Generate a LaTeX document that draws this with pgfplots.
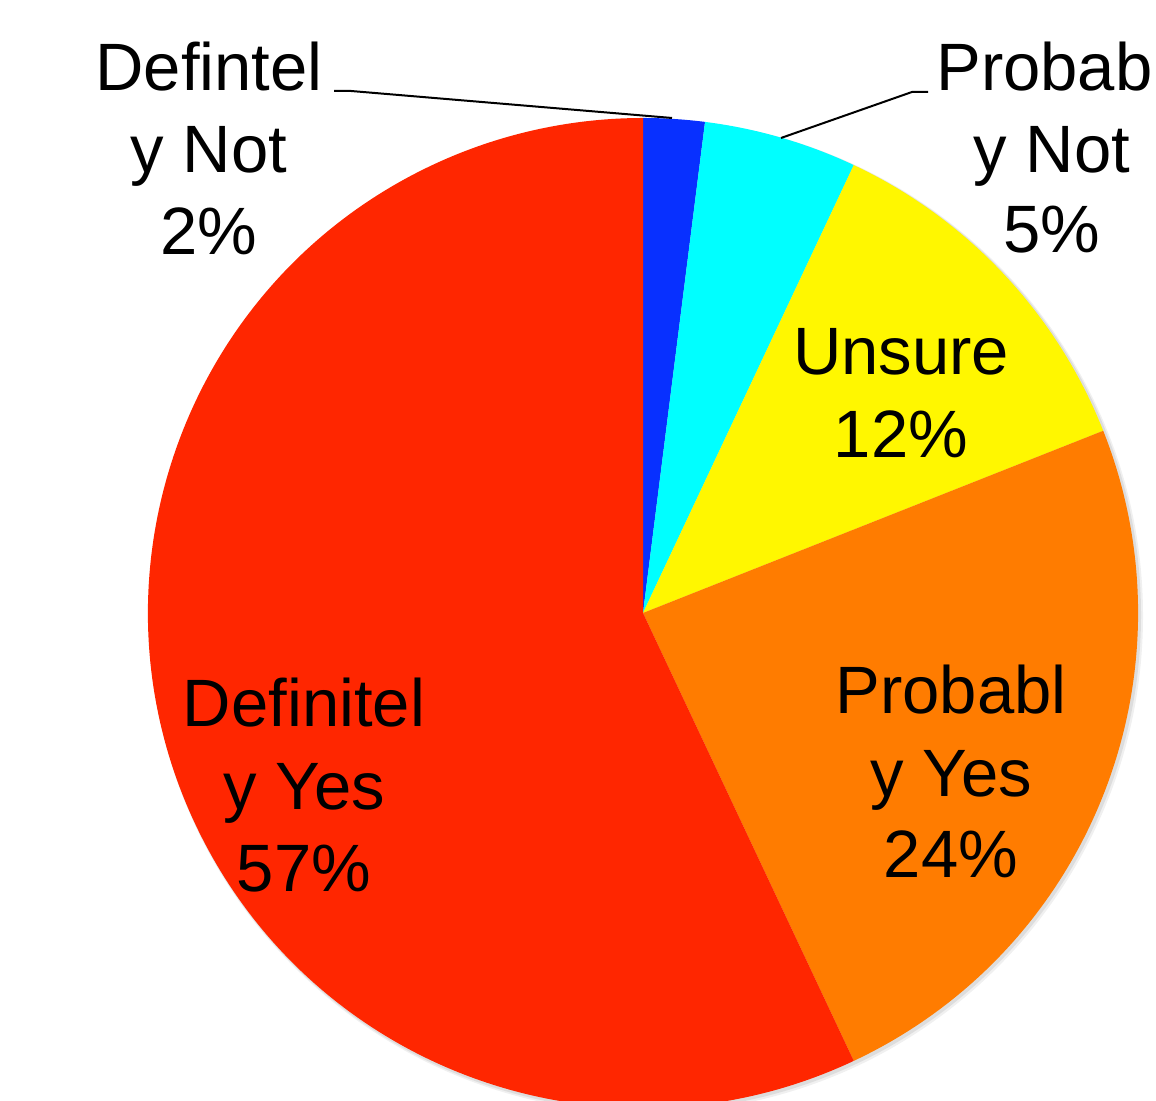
\documentclass[border=0pt]{standalone}
\usepackage{pgfplots}
\pgfplotsset{compat=1.18}
\usepackage{pgfplotstable}
\usepackage{fontspec}
\setmainfont{Liberation Sans}

\definecolor{dnblue}{RGB}{8,48,255}
\definecolor{pncyan}{RGB}{0,255,255}
\definecolor{unyellow}{RGB}{255,247,0}
\definecolor{pyorange}{RGB}{255,124,0}
\definecolor{dyred}{RGB}{255,38,0}

% shares in percent, clockwise from 12 o'clock
\pgfplotstableread{
share colour
2  dnblue
5  pncyan
12 unyellow
24 pyorange
57 dyred
}\piedata

\tikzset{pielabel/.style={anchor=base, inner sep=0pt,
  font=\fontsize{33.5pt}{40pt}\selectfont}}

\begin{document}
\begin{tikzpicture}
\clip (0,0) rectangle (578pt,550.5pt);
\begin{axis}[at={(0,0)}, anchor=south west,
  width=578pt, height=550.5pt, scale only axis,
  xmin=0, xmax=1156, ymin=0, ymax=1101,
  hide axis, clip=false]

% soft shadow under the pie
\fill[black, opacity=0.06] (axis cs:646,485) circle[radius=248.5pt];
\fill[black, opacity=0.08] (axis cs:645,486) circle[radius=248pt];

% wedges
\pgfmathsetmacro{\startang}{90}
\pgfplotsforeachungrouped \i in {0,...,4}{%
  \pgfplotstablegetelem{\i}{share}\of\piedata
  \pgfmathsetmacro{\endang}{\startang-3.6*\pgfplotsretval}%
  \pgfplotstablegetelem{\i}{colour}\of\piedata
  \edef\piewedge{\noexpand\fill[\pgfplotsretval] (axis cs:643,488) -- ++(\startang:247.5pt)
    arc[start angle=\startang, end angle=\endang, radius=247.5pt] -- cycle;}%
  \piewedge
  \let\startang\endang
}

% leader lines
\draw[line width=1pt] (axis cs:334,1010) -- (axis cs:351,1010) -- (axis cs:672,983);
\draw[line width=1pt] (axis cs:928,1009) -- (axis cs:912,1009) -- (axis cs:781,963);

% labels
\node[pielabel] at (axis cs:209,1010) {Defintel};
\node[pielabel] at (axis cs:209,928) {y Not};
\node[pielabel] at (axis cs:209,846) {2\%};

\node[pielabel, anchor=base west] at (axis cs:936,1010) {Probab};
\node[pielabel] at (axis cs:1052,928) {y Not};
\node[pielabel] at (axis cs:1052,848) {5\%};

\node[pielabel] at (axis cs:901,726) {Unsure};
\node[pielabel] at (axis cs:901,643) {12\%};

\node[pielabel] at (axis cs:951,387) {Probabl};
\node[pielabel] at (axis cs:951,304) {y Yes};
\node[pielabel] at (axis cs:951,223) {24\%};

\node[pielabel] at (axis cs:304,374) {Definitel};
\node[pielabel] at (axis cs:304,291) {y Yes};
\node[pielabel] at (axis cs:304,209) {57\%};
\end{axis}
\end{tikzpicture}
\end{document}
